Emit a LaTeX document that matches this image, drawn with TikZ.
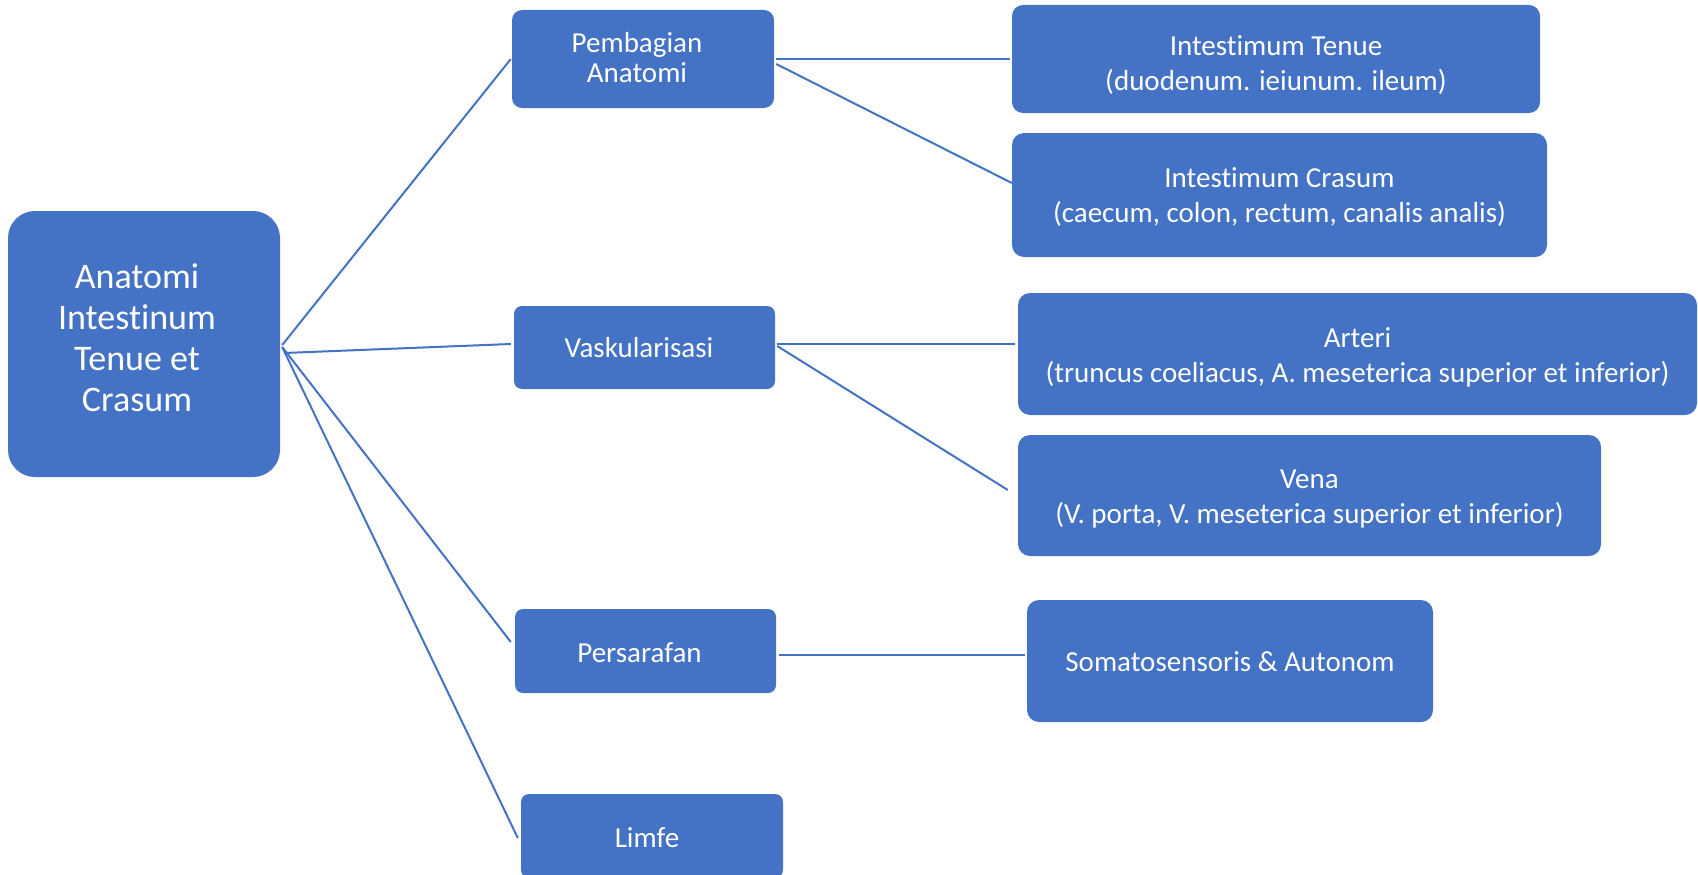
\documentclass[tikz,border=0pt]{standalone}
\usepackage{fontspec}
\setmainfont{Carlito}[Ligatures=NoCommon]
\definecolor{ofblue}{HTML}{4472C4}
\begin{document}
\begin{tikzpicture}[x=1pt,y=-1pt,
  box/.style={fill=ofblue, text=white, inner sep=0pt, align=center},
  lvla/.style={box, font=\fontsize{36pt}{40.7pt}\selectfont},
  lvlb/.style={box, font=\fontsize{29pt}{30pt}\selectfont},
  lvlc/.style={box, font=\fontsize{29pt}{35pt}\selectfont},
  conn/.style={draw=ofblue, line width=2pt}]
\useasboundingbox (0,0) rectangle (1698,875);

\node[lvla, minimum width=272pt, minimum height=266pt, rounded corners=27pt, text height=134pt, text depth=0pt] (main) at (144,344)
  {Anatomi\kern14pt\\Intestinum\kern14pt\\Tenue et\kern14pt\\Crasum\kern14pt};

\node[lvlb, minimum width=262pt, minimum height=98pt, rounded corners=10pt, text height=46pt, text depth=0pt] (pemb) at (643,59)
  {Pembagian\kern12pt\\Anatomi\kern12pt};
\node[lvlb, minimum width=261pt, minimum height=83pt, rounded corners=8pt, text height=19pt, text depth=0pt] (vask) at (644.5,347.5)
  {Vaskularisasi\kern11pt};
\node[lvlb, minimum width=261pt, minimum height=84pt, rounded corners=8pt, text height=22pt, text depth=0pt] (pers) at (645.5,651)
  {Persarafan\kern12pt};
\node[lvlb, minimum width=262pt, minimum height=84pt, rounded corners=8pt, text height=22pt, text depth=0pt] (limfe) at (652,836)
  {Limfe\kern10pt};

\node[lvlc, minimum width=528pt, minimum height=108pt, rounded corners=11pt, text height=62pt, text depth=0pt] (tenue) at (1276,59)
  {Intestimum Tenue\\(duodenum. ieiunum. ileum)};
\node[lvlc, minimum width=535pt, minimum height=124pt, rounded corners=12pt, text height=54pt, text depth=0pt] (crasum) at (1279.5,195)
  {Intestimum Crasum\\(caecum, colon, rectum, canalis analis)};
\node[lvlc, minimum width=679pt, minimum height=122pt, rounded corners=12pt, text height=56pt, text depth=0pt] (arteri) at (1357.5,354)
  {Arteri\\(truncus coeliacus, A. meseterica superior et inferior)};
\node[lvlc, minimum width=583pt, minimum height=121pt, rounded corners=12pt, text height=55pt, text depth=0pt] (vena) at (1309.5,495.5)
  {Vena\\(V. porta, V. meseterica superior et inferior)};
\node[lvlc, minimum width=406pt, minimum height=122pt, rounded corners=12pt, text height=20pt, text depth=0pt] (somato) at (1230,661)
  {Somatosensoris \& Autonom};

\draw[conn] ([xshift=2pt,yshift=-1pt]main.east) -- ([xshift=-1pt]pemb.west);
\draw[conn] ([xshift=4pt,yshift=-9pt]main.east) -- ([xshift=-3pt,yshift=3.5pt]vask.west);
\draw[conn] ([xshift=2pt,yshift=-3pt]main.east) -- ([xshift=-4pt,yshift=9pt]pers.west);
\draw[conn] ([xshift=2pt,yshift=-3pt]main.east) -- ([xshift=-3pt,yshift=-2pt]limfe.west);

\draw[conn] ([xshift=2pt]pemb.east) -- ([xshift=-2pt]tenue.west);
\draw[conn] ([xshift=2pt,yshift=-5pt]pemb.east) -- ([yshift=12pt]crasum.west);
\draw[conn] ([xshift=2pt,yshift=3.5pt]vask.east) -- ([xshift=-3pt,yshift=10pt]arteri.west);
\draw[conn] ([xshift=2pt,yshift=1.5pt]vask.east) -- ([xshift=-10pt,yshift=5.5pt]vena.west);
\draw[conn] ([xshift=3pt,yshift=-4pt]pers.east) -- ([xshift=-2pt,yshift=6pt]somato.west);
\end{tikzpicture}
\end{document}
